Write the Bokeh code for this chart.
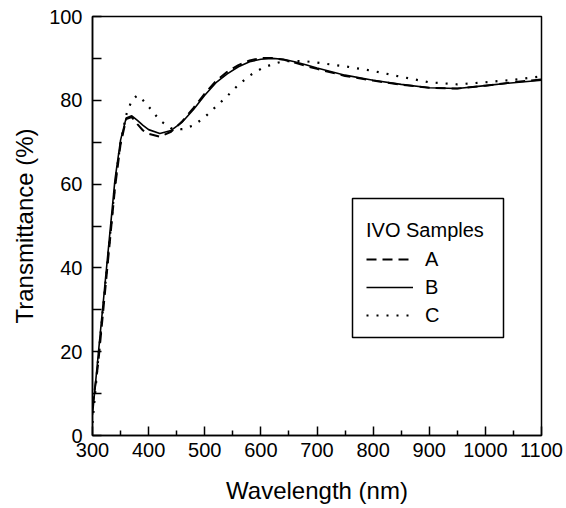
from bokeh.plotting import figure
from bokeh.models import (FixedTicker, Range1d, Legend, LegendItem, BoxAnnotation)
from bokeh.embed import file_html
from bokeh.resources import INLINE

# ---- data ----
wavelength = [300, 310, 320, 330, 340, 350, 360, 370, 380, 390, 400, 420, 440,
              460, 480, 500, 520, 540, 560, 580, 600, 620, 640, 660, 680, 700,
              750, 800, 850, 900, 950, 1000, 1050, 1100]

sample_a = [7, 17, 31, 45, 59, 69.5, 75.5, 76, 74.3, 72.8, 72, 71.3, 72.5,
            75, 78.2, 81.6, 84.6, 86.8, 88.4, 89.5, 90.1, 90.1, 89.7, 89, 88.2, 87.5,
            85.8, 84.7, 83.7, 83, 82.8, 83.5, 84.3, 85]

sample_b = [5, 19, 33, 47, 61, 70.5, 75.8, 76.3, 75.2, 74, 73, 72.1, 72.8,
            74.8, 77.8, 81.2, 84.2, 86.3, 88, 89.2, 89.8, 90, 89.8, 89.2, 88.5, 87.7,
            86, 84.8, 83.8, 83, 82.8, 83.5, 84.2, 84.8]

sample_c = [3, 18, 32, 46, 60, 70, 76.5, 80, 81.2, 80, 78.5, 75.2, 73.3,
            73.1, 74, 76, 78.5, 81, 83.7, 85.9, 87.5, 88.6, 89.3, 89.4, 89.3, 89,
            88.1, 87, 85.6, 84.3, 83.8, 84.3, 84.9, 85.7]

series_labels = ["A", "B", "C"]
legend_title = "IVO Samples"
x_ticks = [300, 400, 500, 600, 700, 800, 900, 1000, 1100]
x_minor = [350, 450, 550, 650, 750, 850, 950, 1050]
y_ticks = [0, 20, 40, 60, 80, 100]
y_minor = [10, 30, 50, 70, 90]

FONT = "Liberation Sans"

p = figure(width=566, height=508, output_backend="svg", toolbar_location=None,
           x_range=Range1d(300, 1100), y_range=Range1d(0, 100),
           min_border_left=92, min_border_right=25, min_border_top=16,
           min_border_bottom=73)
p.background_fill_color = "white"
p.border_fill_color = "white"
p.outline_line_color = "black"
p.outline_line_width = 1.5
p.xgrid.visible = False
p.ygrid.visible = False

r_a = p.line(wavelength, sample_a, line_color="black", line_width=2, line_dash="10 6")
r_b = p.line(wavelength, sample_b, line_color="black", line_width=1.6)
r_c = p.line(wavelength, sample_c, line_color="black", line_width=2.2, line_dash="2 8")

xa = p.xaxis[0]
xa.ticker = FixedTicker(ticks=x_ticks, minor_ticks=x_minor)
xa.axis_label = "Wavelength (nm)"
ya = p.yaxis[0]
ya.ticker = FixedTicker(ticks=y_ticks, minor_ticks=y_minor)
ya.axis_label = "Transmittance (%)"

for ax in (xa, ya):
    ax.axis_line_color = "black"
    ax.axis_line_width = 1.5
    ax.major_tick_line_color = "black"
    ax.minor_tick_line_color = "black"
    ax.major_tick_line_width = 1.5
    ax.minor_tick_line_width = 1.5
    ax.major_tick_out = 0
    ax.minor_tick_out = 0
    ax.major_label_text_font = FONT
    ax.major_label_text_font_size = "20px"
    ax.major_label_text_color = "black"
    ax.axis_label_text_font = FONT
    ax.axis_label_text_font_size = "24px"
    ax.axis_label_text_font_style = "normal"
    ax.axis_label_text_color = "black"

xa.major_tick_in = 9
xa.minor_tick_in = 5
xa.major_label_standoff = 7
xa.axis_label_standoff = 17
ya.major_tick_in = 9
ya.minor_tick_in = 9
ya.major_label_standoff = 10
ya.axis_label_standoff = 8

# legend frame
box = BoxAnnotation(left=260, right=411, bottom=98, top=237,
                    left_units="screen", right_units="screen",
                    bottom_units="screen", top_units="screen",
                    fill_color="white", fill_alpha=1.0,
                    line_color="black", line_alpha=1.0, line_width=1.5)
p.add_layout(box)

legend = Legend(items=[LegendItem(label=series_labels[0], renderers=[r_a]),
                       LegendItem(label=series_labels[1], renderers=[r_b]),
                       LegendItem(label=series_labels[2], renderers=[r_c])],
                location=(274, 106), title=legend_title)
legend.title_text_font = FONT
legend.title_text_font_size = "20px"
legend.title_text_font_style = "normal"
legend.title_text_color = "black"
legend.title_standoff = 3
legend.label_text_font = FONT
legend.label_text_font_size = "20px"
legend.label_text_color = "black"
legend.label_height = 28
legend.glyph_height = 28
legend.glyph_width = 47
legend.label_standoff = 12
legend.spacing = 0
legend.padding = 0
legend.margin = 0
legend.border_line_alpha = 0
legend.background_fill_alpha = 0
p.add_layout(legend, "center")

open("out.html", "w").write(file_html(p, INLINE))
